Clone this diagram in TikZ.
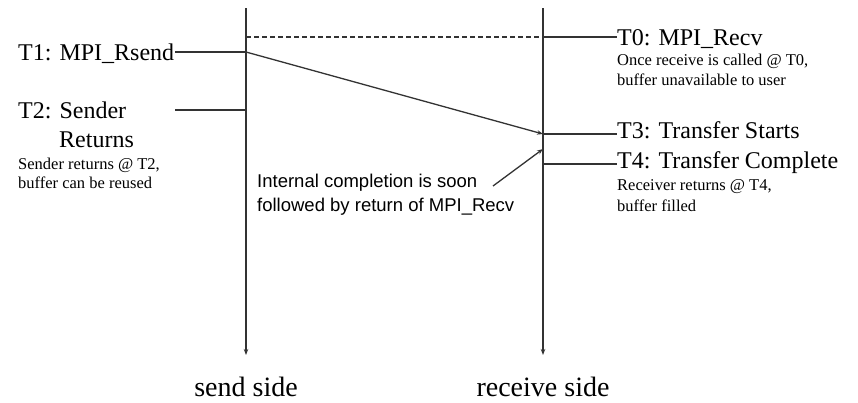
\documentclass[tikz,border=0pt]{standalone}
\usepackage{fontspec}
\setmainfont{Liberation Serif}
\newfontfamily\arialfont{Liberation Sans}
\usetikzlibrary{arrows.meta}
\tikzset{
  big/.style={inner sep=0pt, anchor=base west, font=\fontsize{24}{26}\selectfont},
  small/.style={inner sep=0pt, anchor=base west, font=\fontsize{16.5}{19}\selectfont},
  sans/.style={inner sep=0pt, anchor=base west, font=\arialfont\fontsize{18.5}{21}\selectfont},
  side/.style={inner sep=0pt, anchor=base, font=\fontsize{28}{30}\selectfont},
  ln/.style={draw=black!80, line width=1.3pt},
  tip/.style={-{Stealth[length=6pt,width=4.5pt]}}
}
\begin{document}
\begin{tikzpicture}[x=1pt,y=-1pt]
\useasboundingbox (0,0) rectangle (858,402);
% time lines
\coordinate (sTop) at (246,8);
\coordinate (sBot) at (246,355);
\coordinate (rTop) at (543,8);
\coordinate (rBot) at (543,355);
\draw[ln,tip] (sTop) -- (sBot);
\draw[ln,tip] (rTop) -- (rBot);
\node[side] (sside) at (246,396) {send side};
\node[side] (rside) at (543,396) {receive side};
% send side events
\coordinate (s0) at (246,37);
\coordinate (s1) at (246,52);
\coordinate (s2) at (246,110);
\coordinate (r0) at (543,37);
\coordinate (r3) at (543,134);
\coordinate (r4) at (543,164);
\coordinate (rI) at (543,149);
\node[big] (t1) at (18,60) {T1: MPI\_Rsend};
\coordinate (t1e) at (175,52);
\draw[ln] (t1e) -- (s1);
\node[big] (t2) at (18,118) {T2: Sender};
\node[big] (t2b) at (59,147) {Returns};
\coordinate (t2e) at (175,110);
\draw[ln] (t2e) -- (s2);
\node[small] (t2s1) at (18,169) {Sender returns @ T2,};
\node[small] (t2s2) at (18,188) {buffer can be reused};
% dashed
\draw[ln,dashed,dash pattern=on 5pt off 3pt] (s0) -- (r0);
% transfer
\draw[ln,tip] (s1) -- (r3);
% receive side labels
\node[big] (t0) at (617,45) {T0: MPI\_Recv};
\draw[ln] (r0) -- (t0.base west |- r0);
\node[small] (t0s1) at (617,65) {Once receive is called @ T0,};
\node[small] (t0s2) at (617,85) {buffer unavailable to user};
\node[big] (t3) at (617,138) {T3: Transfer Starts};
\draw[ln] (r3) -- (t3.base west |- r3);
\node[big] (t4) at (617,168) {T4: Transfer Complete};
\draw[ln] (r4) -- (t4.base west |- r4);
\node[small] (t4s1) at (617,190) {Receiver returns @ T4,};
\node[small] (t4s2) at (617,211) {buffer filled};
% internal completion
\node[sans] (ic1) at (257,187) {Internal completion is soon};
\node[sans] (ic2) at (257,211) {followed by return of MPI\_Recv};
\coordinate (icA) at (493,186);
\draw[ln,tip] (icA) -- (rI);
\end{tikzpicture}
\end{document}
